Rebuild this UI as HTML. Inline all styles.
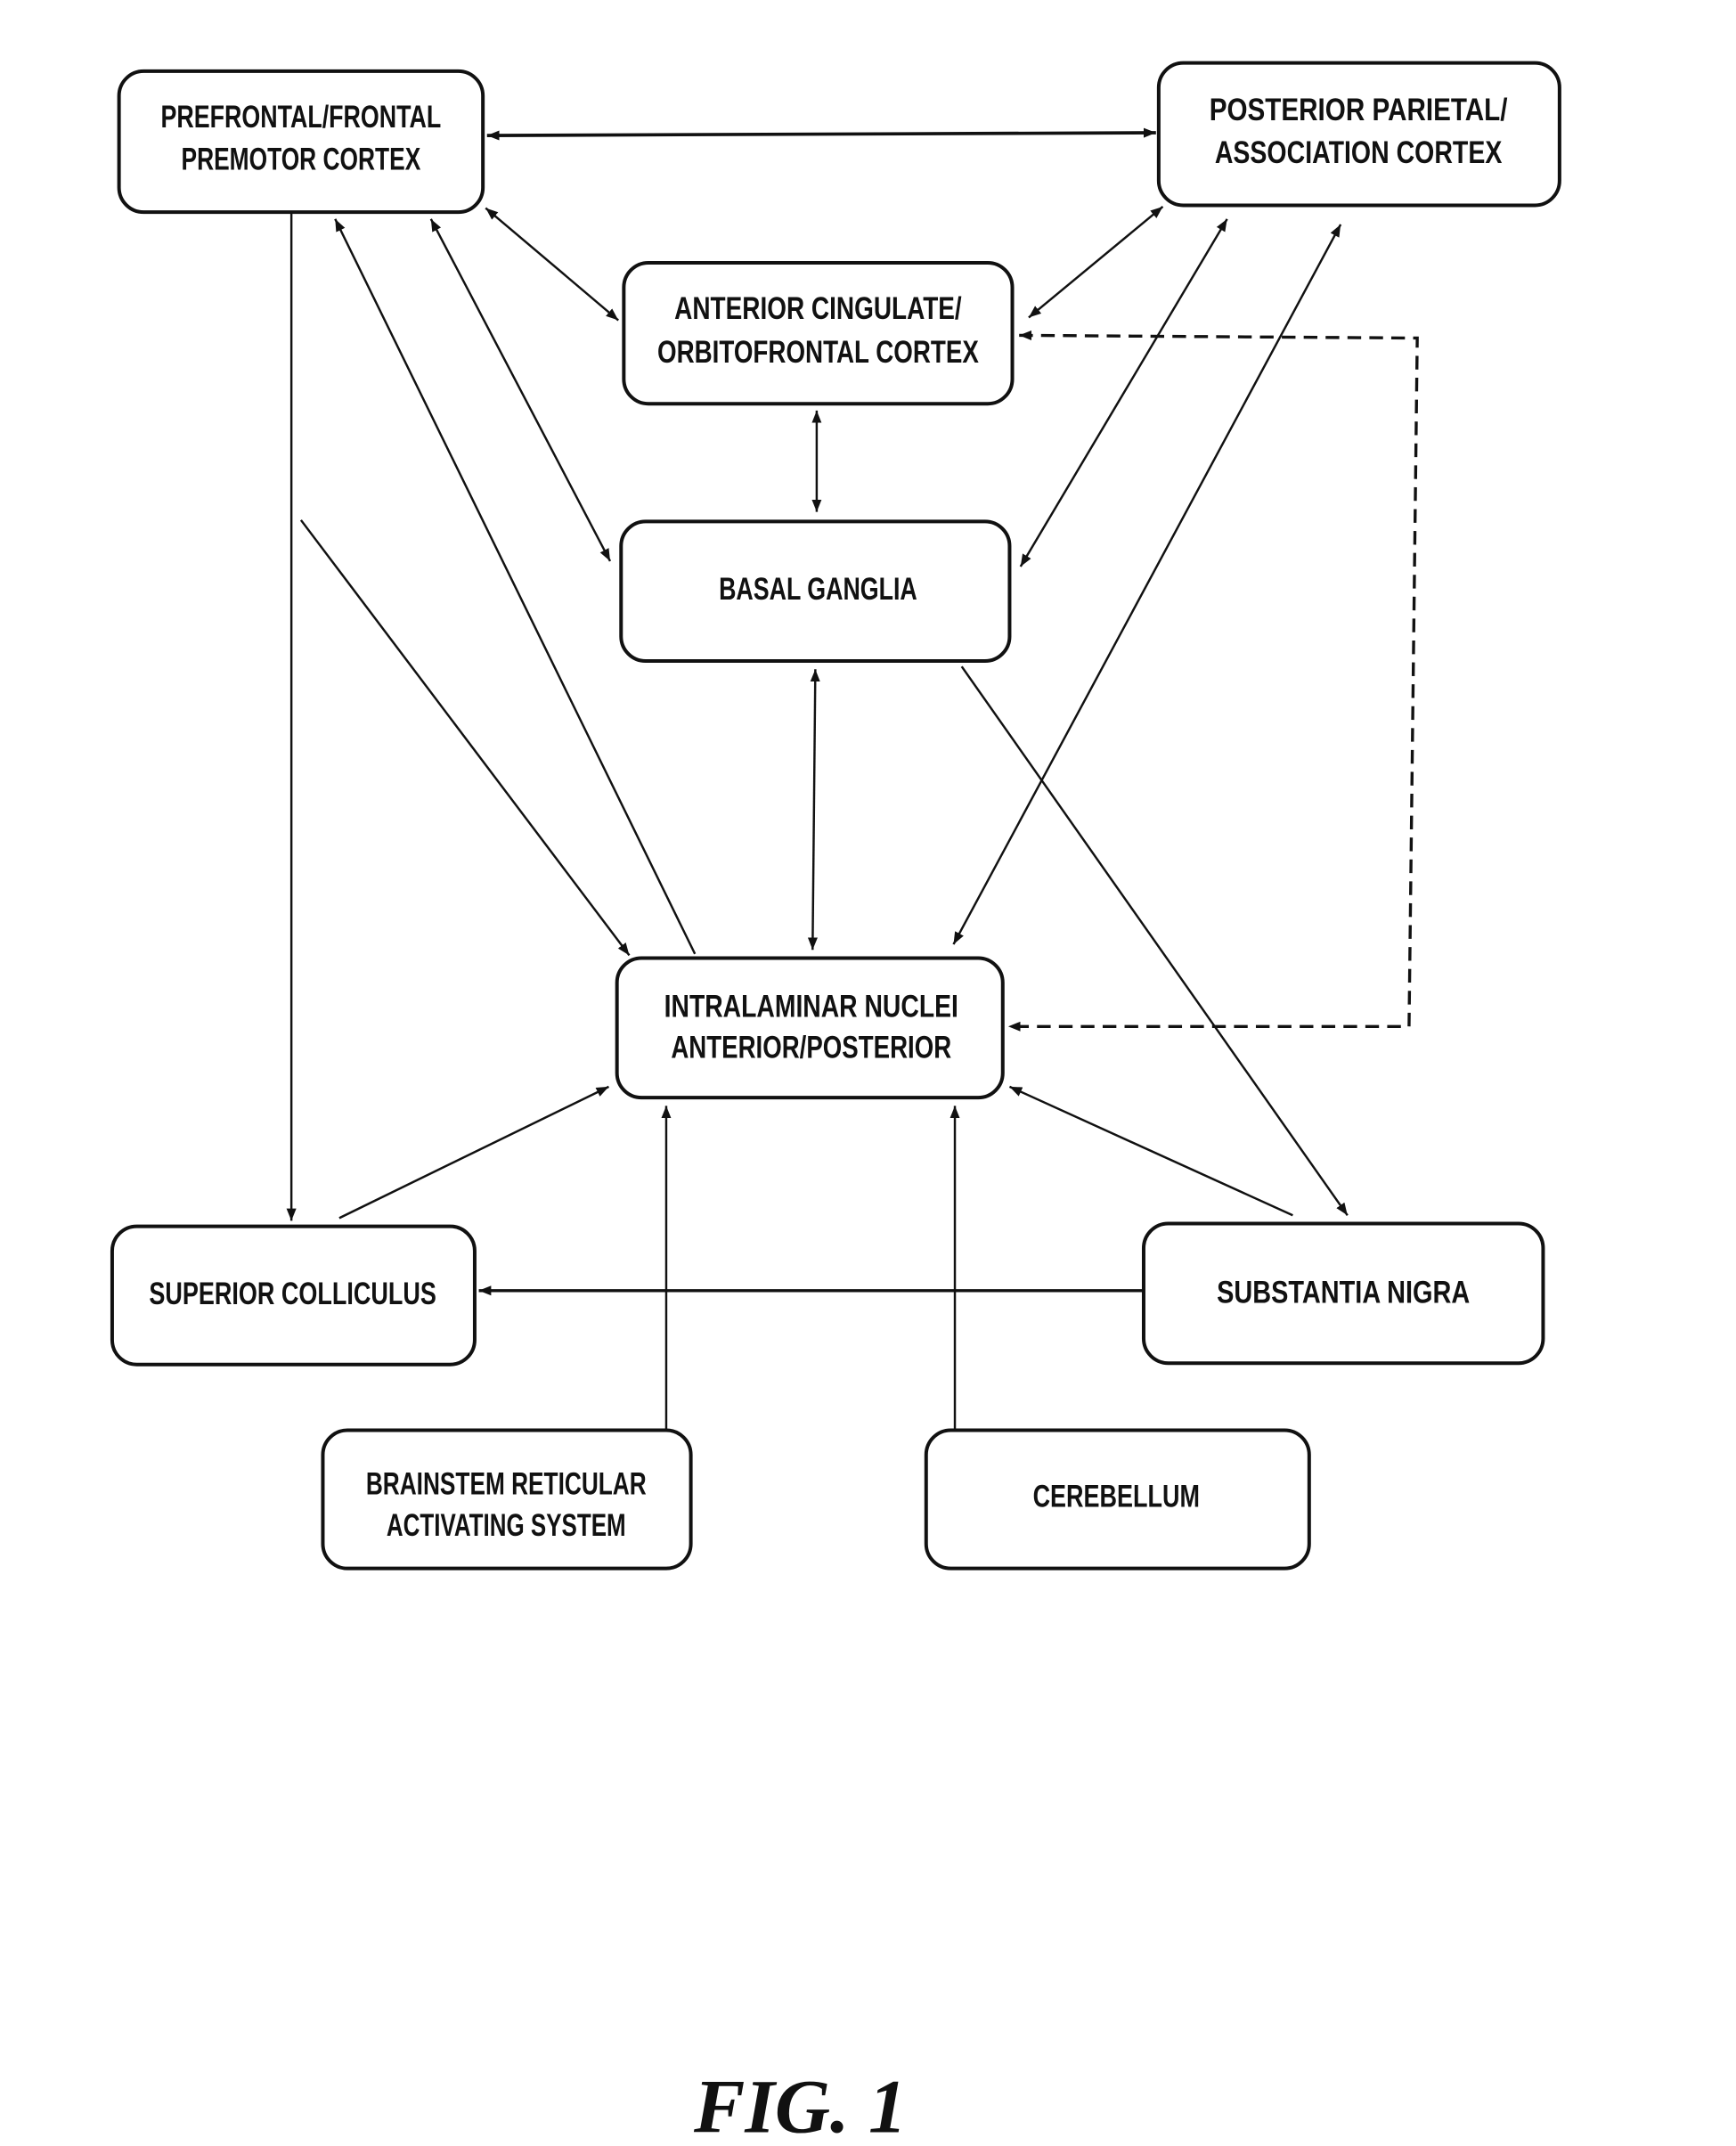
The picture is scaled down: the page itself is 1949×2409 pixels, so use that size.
<!DOCTYPE html>
<html><head><meta charset="utf-8"><style>
html,body{margin:0;padding:0;background:#fff;}
svg{display:block;}
text{font-family:"Liberation Sans",sans-serif;font-weight:bold;font-size:23px;fill:#111;}
</style></head><body>
<svg width="1949" height="2409" viewBox="0 0 1269 1568" preserveAspectRatio="none" xmlns="http://www.w3.org/2000/svg">
<defs>
<marker id="a" viewBox="0 0 10 10" refX="10" refY="5" markerWidth="9" markerHeight="9" markerUnits="userSpaceOnUse" orient="auto-start-reverse"><path d="M0,1 L10,5 L0,9 z" fill="#111"/></marker>
</defs>
<g fill="#fff" stroke="#111" stroke-width="2.6">
<rect x="87" y="52" width="266" height="103" rx="18"/>
<rect x="847" y="46" width="293" height="104" rx="18"/>
<rect x="456" y="192" width="284" height="103" rx="18"/>
<rect x="454" y="381" width="284" height="102" rx="18"/>
<rect x="451" y="700" width="282" height="102" rx="18"/>
<rect x="82" y="896" width="265" height="101" rx="18"/>
<rect x="836" y="894" width="292" height="102" rx="18"/>
<rect x="236" y="1045" width="269" height="101" rx="18"/>
<rect x="677" y="1045" width="280" height="101" rx="18"/>
</g>
<g stroke="#111" stroke-width="1.6" fill="none">
<line x1="356" y1="99" x2="845" y2="97" stroke-width="2.4" marker-start="url(#a)" marker-end="url(#a)"/>
<line x1="213" y1="156" x2="213" y2="892" marker-end="url(#a)"/>
<line x1="220" y1="380" x2="460" y2="698" marker-end="url(#a)"/>
<line x1="508" y1="697" x2="245" y2="160" marker-end="url(#a)"/>
<line x1="315" y1="160" x2="446" y2="410" marker-start="url(#a)" marker-end="url(#a)"/>
<line x1="355" y1="152" x2="452" y2="234" marker-start="url(#a)" marker-end="url(#a)"/>
<line x1="850" y1="151" x2="752" y2="232" marker-start="url(#a)" marker-end="url(#a)"/>
<line x1="897" y1="160" x2="746" y2="414" marker-start="url(#a)" marker-end="url(#a)"/>
<line x1="980" y1="164" x2="697" y2="690" marker-start="url(#a)" marker-end="url(#a)"/>
<line x1="597" y1="300" x2="597" y2="374" marker-start="url(#a)" marker-end="url(#a)"/>
<line x1="596" y1="489" x2="594" y2="694" marker-start="url(#a)" marker-end="url(#a)"/>
<line x1="703" y1="487" x2="985" y2="888" marker-end="url(#a)"/>
<line x1="248" y1="890" x2="445" y2="794" marker-end="url(#a)"/>
<line x1="487" y1="1045" x2="487" y2="808" marker-end="url(#a)"/>
<line x1="698" y1="1045" x2="698" y2="808" marker-end="url(#a)"/>
<line x1="945" y1="888" x2="738" y2="794" marker-end="url(#a)"/>
<line x1="836" y1="943" x2="350" y2="943" stroke-width="2.2" marker-end="url(#a)"/>
<polyline points="745,245 1036,247 1030,750 737,750" stroke-width="2.2" stroke-dasharray="10,6" marker-start="url(#a)" marker-end="url(#a)"/>
</g>
<g text-anchor="middle">
<text x="220" y="93" textLength="205" lengthAdjust="spacingAndGlyphs">PREFRONTAL/FRONTAL</text>
<text x="220" y="124" textLength="175" lengthAdjust="spacingAndGlyphs">PREMOTOR CORTEX</text>
<text x="993" y="88" textLength="218" lengthAdjust="spacingAndGlyphs">POSTERIOR PARIETAL/</text>
<text x="993" y="119" textLength="210" lengthAdjust="spacingAndGlyphs">ASSOCIATION CORTEX</text>
<text x="598" y="233" textLength="210" lengthAdjust="spacingAndGlyphs">ANTERIOR CINGULATE/</text>
<text x="598" y="265" textLength="235" lengthAdjust="spacingAndGlyphs">ORBITOFRONTAL CORTEX</text>
<text x="598" y="438" textLength="145" lengthAdjust="spacingAndGlyphs">BASAL GANGLIA</text>
<text x="593" y="743" textLength="215" lengthAdjust="spacingAndGlyphs">INTRALAMINAR NUCLEI</text>
<text x="593" y="773" textLength="205" lengthAdjust="spacingAndGlyphs">ANTERIOR/POSTERIOR</text>
<text x="214" y="953" textLength="210" lengthAdjust="spacingAndGlyphs">SUPERIOR COLLICULUS</text>
<text x="982" y="952" textLength="185" lengthAdjust="spacingAndGlyphs">SUBSTANTIA NIGRA</text>
<text x="370" y="1092" textLength="205" lengthAdjust="spacingAndGlyphs">BRAINSTEM RETICULAR</text>
<text x="370" y="1122" textLength="175" lengthAdjust="spacingAndGlyphs">ACTIVATING SYSTEM</text>
<text x="816" y="1101" textLength="122" lengthAdjust="spacingAndGlyphs">CEREBELLUM</text>
<text x="585" y="1558" style="font-family:'Liberation Serif',serif;font-style:italic;font-size:56px">FIG.  1</text>
</g>
</svg>
</body></html>
